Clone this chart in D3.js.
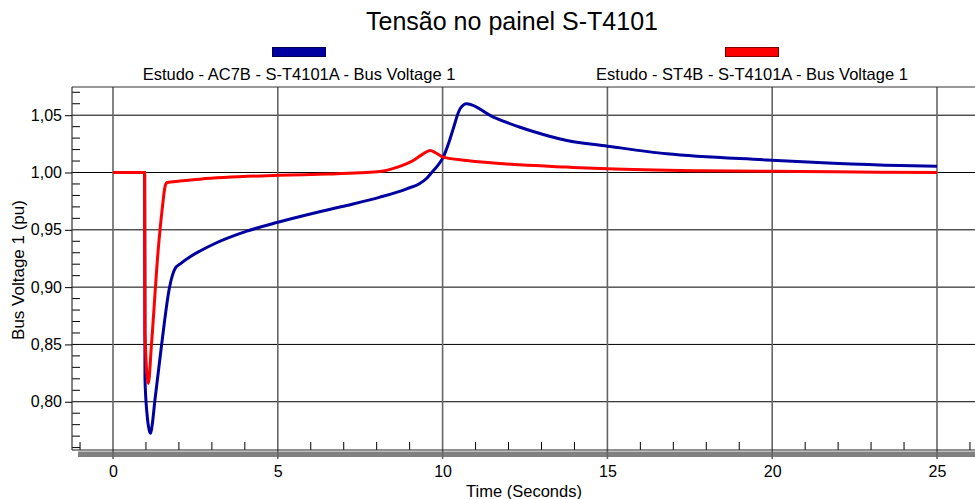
<!DOCTYPE html>
<html>
<head>
<meta charset="utf-8">
<script src="https://cdn.jsdelivr.net/npm/d3@7"></script>
<style>
  html, body { margin: 0; padding: 0; background: #fff; }
  svg { display: block; font-family: "Liberation Sans", Arial, sans-serif; }
</style>
</head>
<body>
<svg id="chart" width="975" height="499"></svg>
<script>
// Bus voltage at panel S-T4101 for two study cases (pu vs seconds)
const titleText = "Tensão no painel S-T4101";
const seriesNames = [
  "Estudo - AC7B - S-T4101A - Bus Voltage 1",
  "Estudo - ST4B - S-T4101A - Bus Voltage 1"
];
const seriesColors = ["#0000a0", "#ff0000"];

// Case AC7B
const ac7bTime = [0, 0.96, 0.97, 1.03, 1.10, 1.14, 1.19, 1.27, 1.48, 1.71, 1.80, 1.88, 2.05, 2.34, 2.64,
  3.03, 4.06, 5.0, 6.08, 7.09, 8.10, 8.91, 9.31, 9.52, 9.67, 9.85, 10.02, 10.20, 10.32, 10.53, 10.73,
  11.54, 12.35, 12.75, 13.77, 15.0, 16.8, 19.83, 21.85, 23.88, 25.0];
const ac7bVolt = [1.000, 1.000, 0.820, 0.790, 0.775, 0.7725, 0.780, 0.801, 0.851, 0.899, 0.910, 0.916, 0.9205, 0.9265, 0.9315,
  0.9372, 0.9488, 0.9566, 0.9645, 0.9712, 0.9785, 0.9858, 0.9905, 0.9950, 1.0000, 1.0060, 1.0134, 1.027, 1.038, 1.0556, 1.060,
  1.0483, 1.0395, 1.0358, 1.0279, 1.023, 1.0163, 1.011, 1.0081, 1.0061, 1.0055];

// Case ST4B
const st4bTime = [0, 0.96, 0.97, 1.07, 1.17, 1.37, 1.50, 1.58, 1.64, 2.03, 2.64, 5.0, 6.5, 7.5, 8.1, 8.61, 9.11,
  9.40, 9.62, 9.80, 10.02, 10.73, 12.35, 13.77, 15.0, 17.85, 20.8, 23.27, 25.0];
const st4bVolt = [1.000, 1.000, 0.860, 0.816, 0.851, 0.932, 0.970, 0.988, 0.9913, 0.9925, 0.9942, 0.9975, 0.9986, 0.9997, 1.0008, 1.0045, 1.0105,
  1.016, 1.0192, 1.017, 1.0134, 1.0105, 1.0067, 1.0047, 1.0032, 1.0015, 1.0009, 1.0003, 1.000];

const xTickValues = [0, 5, 10, 15, 20, 25];
const yTickValues = [0.80, 0.85, 0.90, 0.95, 1.00, 1.05];
const xLabel = "Time (Seconds)";
const yLabel = "Bus Voltage 1 (pu)";

const svg = d3.select("#chart");
const plot = { left: 72, right: 975, top: 87, bottom: 450 };

const x = d3.scaleLinear().domain([-1.244, 26.153]).range([plot.left, plot.right]);
const y = d3.scaleLinear().domain([0.7579, 1.0746]).range([plot.bottom, plot.top]);

const ptLocale = d3.formatLocale({ decimal: ",", thousands: ".", grouping: [3], currency: ["", ""] });
const fmtY = ptLocale.format(".2f");

// Title
svg.append("text")
  .attr("x", 512).attr("y", 30)
  .attr("text-anchor", "middle")
  .attr("font-size", 25)
  .attr("fill", "#000")
  .text(titleText);

// Legend: swatch above each label
const legendCenters = [299, 752];
seriesNames.forEach((name, i) => {
  const g = svg.append("g").attr("transform", `translate(${legendCenters[i]},0)`);
  g.append("rect")
    .attr("x", -26.5).attr("y", 47.5)
    .attr("width", 53).attr("height", 9)
    .attr("fill", seriesColors[i])
    .attr("stroke", i === 0 ? "#000050" : "#800000")
    .attr("stroke-width", 1);
  g.append("text")
    .attr("y", 80)
    .attr("text-anchor", "middle")
    .attr("font-size", 16.5)
    .attr("fill", "#000")
    .text(name);
});

// Bottom axis shadow band
svg.append("rect")
  .attr("x", plot.left + 6).attr("y", plot.bottom + 1.5)
  .attr("width", plot.right - plot.left - 6).attr("height", 5.5)
  .attr("fill", "#808080");

// Horizontal grid
svg.append("g").selectAll("line")
  .data(yTickValues)
  .join("line")
  .attr("x1", plot.left).attr("x2", plot.right)
  .attr("y1", d => y(d)).attr("y2", d => y(d))
  .attr("stroke", "#000").attr("stroke-width", 1);

// Vertical grid, extending a little below the axis
svg.append("g").selectAll("line")
  .data(xTickValues)
  .join("line")
  .attr("x1", d => x(d)).attr("x2", d => x(d))
  .attr("y1", plot.top).attr("y2", plot.bottom + 9)
  .attr("stroke", "#666").attr("stroke-width", 1.6);

// Minor ticks (inside the frame)
const xMinor = d3.range(-1, 27).filter(t => t % 5 !== 0 && x(t) <= plot.right);
svg.append("g").selectAll("line")
  .data(xMinor)
  .join("line")
  .attr("x1", d => x(d)).attr("x2", d => x(d))
  .attr("y1", plot.bottom - 8).attr("y2", plot.bottom)
  .attr("stroke", "#000").attr("stroke-width", 1);

const yMinor = d3.range(76, 108).map(v => v / 100).filter(v => Math.round(v * 100) % 5 !== 0 && y(v) >= plot.top);
svg.append("g").selectAll("line")
  .data(yMinor)
  .join("line")
  .attr("x1", plot.left).attr("x2", plot.left + 8)
  .attr("y1", d => y(d)).attr("y2", d => y(d))
  .attr("stroke", "#000").attr("stroke-width", 1);

// Frame: top, left and bottom edges
svg.append("line")
  .attr("x1", plot.left).attr("x2", plot.right)
  .attr("y1", plot.top).attr("y2", plot.top)
  .attr("stroke", "#333").attr("stroke-width", 1);
svg.append("line")
  .attr("x1", plot.left).attr("x2", plot.left)
  .attr("y1", plot.top).attr("y2", plot.bottom)
  .attr("stroke", "#333").attr("stroke-width", 1.2);
svg.append("line")
  .attr("x1", plot.left).attr("x2", plot.right)
  .attr("y1", plot.bottom).attr("y2", plot.bottom)
  .attr("stroke", "#222").attr("stroke-width", 1.2);

// Y axis labels
const yAxis = d3.axisLeft(y).tickValues(yTickValues).tickFormat(fmtY).tickSize(7).tickPadding(3);
const yg = svg.append("g").attr("transform", `translate(${plot.left},0)`).call(yAxis);
yg.select(".domain").remove();
yg.selectAll("text").attr("font-size", 16).attr("font-family", "Liberation Sans, Arial, sans-serif").attr("fill", "#000");
yg.selectAll("line").attr("stroke", "#000");

// X axis labels
const xAxis = d3.axisBottom(x).tickValues(xTickValues).tickFormat(d3.format("d")).tickSize(0).tickPadding(15.6);
const xg = svg.append("g").attr("transform", `translate(0,${plot.bottom})`).call(xAxis);
xg.select(".domain").remove();
xg.selectAll("text").attr("font-size", 16).attr("font-family", "Liberation Sans, Arial, sans-serif").attr("fill", "#000");

// Axis titles
svg.append("text")
  .attr("x", 524).attr("y", 497)
  .attr("text-anchor", "middle")
  .attr("font-size", 16.5)
  .attr("fill", "#000")
  .text(xLabel);
svg.append("text")
  .attr("transform", "translate(23.5,270) rotate(-90)")
  .attr("text-anchor", "middle")
  .attr("font-size", 17)
  .attr("fill", "#000")
  .text(yLabel);

// Series curves
const series = [
  { t: ac7bTime, v: ac7bVolt, color: seriesColors[0] },
  { t: st4bTime, v: st4bVolt, color: seriesColors[1] }
];
const line = d3.line()
  .x(d => x(d[0]))
  .y(d => y(d[1]))
  .curve(d3.curveMonotoneX);

svg.append("clipPath").attr("id", "plotClip")
  .append("rect")
  .attr("x", plot.left).attr("y", plot.top)
  .attr("width", plot.right - plot.left).attr("height", plot.bottom - plot.top);

svg.append("g").attr("clip-path", "url(#plotClip)")
  .selectAll("path")
  .data(series)
  .join("path")
  .attr("d", s => line(s.t.map((t, i) => [t, s.v[i]])))
  .attr("fill", "none")
  .attr("stroke", s => s.color)
  .attr("stroke-width", 3)
  .attr("stroke-linejoin", "round");
</script>
</body>
</html>
